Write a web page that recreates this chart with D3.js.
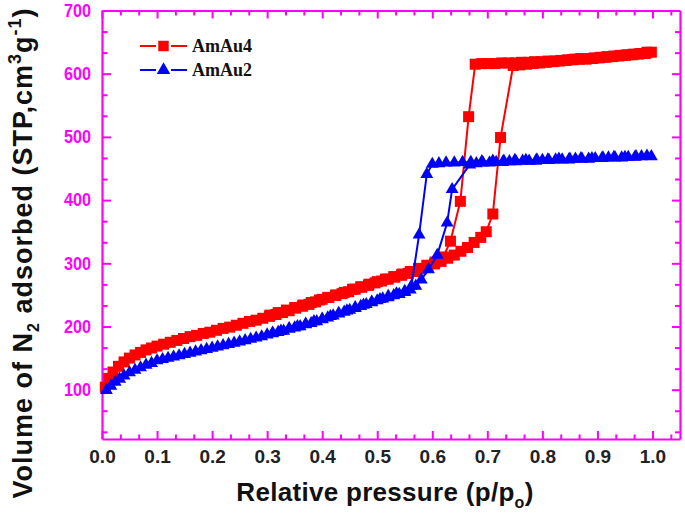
<!DOCTYPE html>
<html><head><meta charset="utf-8">
<script src="https://cdn.jsdelivr.net/npm/d3@7/dist/d3.min.js"></script>
<style>body{margin:0;background:#fff}svg{display:block}</style>
</head><body><svg id="chart" width="685" height="514"></svg>
<script>
// ---- data (adsorption branch followed by desorption branch) ----
const amau4Pressure = [0.006,0.012,0.020,0.030,0.040,0.050,0.060,0.070,0.080,0.090,0.100,0.112,0.124,0.136,0.148,0.160,0.172,0.184,0.196,0.208,0.220,0.232,0.244,0.256,0.268,0.280,0.292,0.304,0.316,0.328,0.340,0.352,0.364,0.376,0.388,0.400,0.412,0.424,0.436,0.448,0.460,0.472,0.484,0.496,0.508,0.520,0.532,0.544,0.556,0.568,0.580,0.592,0.604,0.616,0.628,0.640,0.652,0.664,0.676,0.688,0.698,0.710,0.724,0.747,
  0.759,0.771,0.783,0.795,0.807,0.819,0.831,0.843,0.855,0.867,0.879,0.891,0.903,0.915,0.927,0.939,0.951,0.963,0.975,0.987,0.998,
  0.990,0.978,0.966,0.954,0.942,0.930,0.918,0.906,0.894,0.882,0.870,0.858,0.846,0.834,0.822,0.810,0.798,0.786,0.774,0.762,0.750,0.738,0.726,0.714,0.702,0.690,0.678,0.666,0.651,0.633,0.620,0.605,
  0.590,0.575,0.560,0.545,0.530,0.515,0.500,0.485,0.470,0.455,0.440,0.425,0.410,0.395,0.380,0.365,0.350,0.335,0.320,0.305];
const amau4Volume = [104,118,128,137,144,150,155,159,163,166,169,172,175,178,181,184,186,189,191,194,197,199,202,205,208,210,213,216,219,222,225,229,232,235,239,243,246,249,252,255,259,262,265,269,272,275,278,281,284,287,291,295,299,303,308,313,319,325,333,341,350,378,499,613,
  614,615,616,617,618,619,620,621,622,623,623,624,625,626,627,628,629,630,631,632,634,
  634,632,631,630,629,628,627,626,625,624,624,623,622,621,620,620,619,619,618,618,617,617,617,616,616,616,615,532,398,335,310,302,
  297,292,287,283,279,275,271,267,263,259,254,250,246,242,238,234,230,226,222,218];

const amau2Pressure = [0.008,0.016,0.024,0.032,0.040,0.050,0.060,0.070,0.080,0.090,0.100,0.110,0.120,0.130,0.140,0.150,0.160,0.170,0.180,0.190,0.200,0.210,0.220,0.230,0.240,0.250,0.260,0.270,0.280,0.290,0.300,0.310,0.320,0.330,0.340,0.350,0.360,0.370,0.380,0.390,0.400,0.410,0.420,0.430,0.440,0.450,0.460,0.470,0.480,0.490,0.500,0.510,0.520,0.530,0.540,0.550,0.560,0.570,0.580,0.593,0.609,0.627,0.636,0.668,
  0.680,0.692,0.704,0.716,0.728,0.740,0.752,0.764,0.776,0.788,0.800,0.812,0.824,0.836,0.848,0.860,0.872,0.884,0.896,0.908,0.920,0.932,0.944,0.956,0.968,0.980,0.998,
  0.990,0.970,0.950,0.930,0.910,0.890,0.870,0.850,0.830,0.810,0.790,0.770,0.750,0.730,0.710,0.690,0.670,0.655,0.640,0.625,0.612,0.600,0.590,0.576,0.562,
  0.550,0.535,0.520,0.505,0.490,0.475,0.460,0.445,0.430,0.415,0.400,0.385,0.370,0.355,0.340,0.325,0.310];
const amau2Volume = [99,106,112,117,122,127,131,135,139,142,146,148,150,152,154,156,158,160,162,164,166,168,170,172,174,176,178,180,182,184,187,189,191,193,196,198,200,203,205,208,211,214,217,220,223,226,229,232,235,238,241,244,246,249,251,254,258,264,274,290,313,364,417,456,
  458,459,459,460,460,461,461,462,462,462,463,463,464,464,464,465,465,465,466,466,467,467,467,468,468,469,469,
  470,469,468,468,467,466,466,465,465,464,464,463,463,462,462,461,460,460,459,459,458,457,441,345,264,
  256,252,248,243,239,234,230,225,221,216,212,208,204,200,197,193,190];

const seriesNames = ["AmAu4", "AmAu2"];
const seriesColors = ["#ff0000", "#0000ff"];
const xTickValues = [0.0,0.1,0.2,0.3,0.4,0.5,0.6,0.7,0.8,0.9,1.0];
const yTickValues = [100,200,300,400,500,600,700];

(function () {
// ---- layout ----
const MAG = "#ff00ff";
const pl = 102, pr = 680, pt = 10.5, pb = 439;
const x = d3.scaleLinear().domain([0, 1.05]).range([pl, pr]);
const y = d3.scaleLinear().domain([22, 700]).range([pb, pt]);
const svg = d3.select("#chart");

const xMinor = d3.range(1, 32).map(i => i / 30).filter(v => Math.abs(v * 10 - Math.round(v * 10)) > 1e-6 && v <= 1.05);
const yMinor = d3.range(1, 22).map(i => i * 100 / 3).filter(v => Math.abs(v / 100 - Math.round(v / 100)) > 1e-6 && v >= 22 && v <= 700);

function styleAxis(g) {
  g.selectAll("path.domain").attr("stroke", MAG).attr("stroke-width", 2.2);
  g.selectAll(".tick line").attr("stroke", MAG).attr("stroke-width", 2);
}

// minor ticks
svg.append("g").attr("transform", `translate(0,${pb})`)
  .call(d3.axisBottom(x).tickValues(xMinor).tickSize(-4.5).tickFormat("")).call(styleAxis)
  .call(g => g.select(".domain").remove());
svg.append("g").attr("transform", `translate(0,${pt})`)
  .call(d3.axisTop(x).tickValues(xMinor).tickSize(-5).tickFormat("")).call(styleAxis)
  .call(g => g.select(".domain").remove());
svg.append("g").attr("transform", `translate(${pl},0)`)
  .call(d3.axisLeft(y).tickValues(yMinor).tickSize(-5.5).tickFormat("")).call(styleAxis)
  .call(g => g.select(".domain").remove());
svg.append("g").attr("transform", `translate(${pr},0)`)
  .call(d3.axisRight(y).tickValues(yMinor).tickSize(-5).tickFormat("")).call(styleAxis)
  .call(g => g.select(".domain").remove());

// major axes
const gx = svg.append("g").attr("transform", `translate(0,${pb})`)
  .call(d3.axisBottom(x).tickValues(xTickValues).tickSize(-8).tickSizeOuter(0).tickPadding(11).tickFormat(d3.format(".1f")))
  .call(styleAxis);
gx.selectAll("text").attr("fill", "#222").attr("font-family", "'Liberation Sans Narrow','Arial Narrow',Arial,sans-serif")
  .attr("font-weight", "bold").attr("font-size", 19);

svg.append("g").attr("transform", `translate(0,${pt})`)
  .call(d3.axisTop(x).tickValues(xTickValues).tickSize(-8).tickSizeOuter(0).tickFormat(""))
  .call(styleAxis);

const gy = svg.append("g").attr("transform", `translate(${pl},0)`)
  .call(d3.axisLeft(y).tickValues(yTickValues).tickSize(-9).tickSizeOuter(0).tickPadding(11))
  .call(styleAxis);
gy.selectAll("text").attr("fill", MAG).attr("font-family", "'Liberation Sans Narrow','Arial Narrow',Arial,sans-serif")
  .attr("font-weight", "bold").attr("font-size", 18).attr("textLength", 27).attr("lengthAdjust", "spacingAndGlyphs");

svg.append("g").attr("transform", `translate(${pr},0)`)
  .call(d3.axisRight(y).tickValues(yTickValues).tickSize(-8).tickSizeOuter(0).tickFormat(""))
  .call(styleAxis);

// ---- series ----
const series = [
  { name: seriesNames[0], color: seriesColors[0], p: amau4Pressure, v: amau4Volume, sym: d3.symbolSquare, size: 121 },
  { name: seriesNames[1], color: seriesColors[1], p: amau2Pressure, v: amau2Volume, sym: d3.symbolTriangle, size: 72 }
];
const line = d3.line().x(d => x(d[0])).y(d => y(d[1]));
series.forEach(s => {
  const pts = s.p.map((p, i) => [p, s.v[i]]);
  const g = svg.append("g");
  g.append("path").datum(pts).attr("d", line).attr("fill", "none").attr("stroke", s.color).attr("stroke-width", 2);
  g.selectAll("path.m").data(pts).join("path").attr("class", "m")
    .attr("d", d3.symbol(s.sym, s.size)).attr("fill", s.color)
    .attr("transform", d => `translate(${x(d[0])},${y(d[1])})`);
});

// ---- legend ----
series.forEach((s, i) => {
  const ly = 46 + i * 24;
  const g = svg.append("g");
  g.append("line").attr("x1", 140).attr("x2", 156).attr("y1", ly).attr("y2", ly).attr("stroke", s.color).attr("stroke-width", 2);
  g.append("line").attr("x1", 171).attr("x2", 187).attr("y1", ly).attr("y2", ly).attr("stroke", s.color).attr("stroke-width", 2);
  g.append("path").attr("d", d3.symbol(s.sym, s.sym === d3.symbolSquare ? 110 : 80)).attr("fill", s.color)
    .attr("transform", `translate(163.5,${ly})`);
  g.append("text").attr("x", 192).attr("y", ly + 6).text(s.name)
    .attr("font-family", "'Liberation Serif','Times New Roman',serif").attr("font-weight", "bold").attr("font-size", 18).attr("fill", "#111");
});

// ---- axis titles ----
const xt = svg.append("text").attr("x", 385).attr("y", 501).attr("text-anchor", "middle")
  .attr("font-family", "Arial, 'Liberation Sans', sans-serif").attr("font-weight", "bold").attr("font-size", 26)
  .attr("letter-spacing", 0.3).attr("fill", "#111");
xt.append("tspan").text("Relative pressure (p/p");
xt.append("tspan").attr("font-size", 16).attr("dy", 7).text("o");
xt.append("tspan").attr("dy", -7).text(")");

const yt = svg.append("text").attr("transform", "translate(32,253) rotate(-90)").attr("text-anchor", "middle")
  .attr("font-family", "Arial, 'Liberation Sans', sans-serif").attr("font-weight", "bold").attr("font-size", 27)
  .attr("letter-spacing", 1).attr("fill", "#111");
yt.append("tspan").text("Volume of N");
yt.append("tspan").attr("font-size", 16).attr("dy", 7).text("2");
yt.append("tspan").attr("dy", -7).text(" adsorbed (STP,cm");
yt.append("tspan").attr("font-size", 18).attr("dy", -11).text("3");
yt.append("tspan").attr("dy", 11).text("g");
yt.append("tspan").attr("font-size", 18).attr("dy", -11).text("-1");
yt.append("tspan").attr("dy", 11).text(")");
})();
</script>
</body></html>
